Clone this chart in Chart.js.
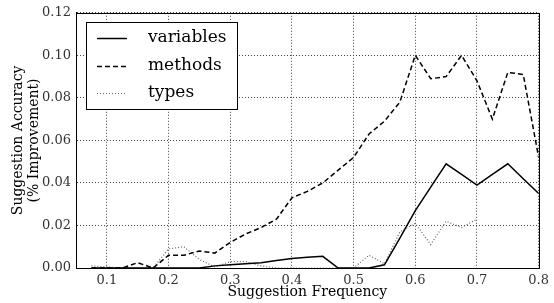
<!DOCTYPE html>
<html>
<head>
<meta charset="utf-8">
<script src="https://cdn.jsdelivr.net/npm/chart.js@4/dist/chart.umd.min.js"></script>
<style>
  html, body { margin: 0; padding: 0; background: #fff; }
  #wrap { width: 554px; height: 303px; position: relative; }
</style>
</head>
<body>
<div id="wrap"><canvas id="chart"></canvas></div>
<script>
// ==================== Data ====================
const freq = [0.075, 0.1, 0.125, 0.15, 0.175, 0.2, 0.225, 0.25, 0.275, 0.3,
              0.325, 0.35, 0.375, 0.4, 0.425, 0.45, 0.475, 0.5, 0.525, 0.55,
              0.575, 0.6, 0.625, 0.65, 0.675, 0.7, 0.725, 0.75, 0.775, 0.8];

const variables = [0, 0, 0, 0, 0, 0, 0, 0, 0.001, 0.0015,
                   0.002, 0.0025, 0.0035, 0.0045, 0.005, 0.0055, 0, 0, 0, 0.0015,
                   0.014, 0.027, 0.038, 0.049, 0.044, 0.039, 0.044, 0.049, 0.042, 0.035];

const methods = [0, 0, 0, 0.0025, 0, 0.006, 0.006, 0.008, 0.007, 0.012,
                 0.016, 0.019, 0.023, 0.033, 0.036, 0.040, 0.046, 0.052, 0.063, 0.069,
                 0.078, 0.100, 0.089, 0.090, 0.100, 0.088, 0.070, 0.092, 0.091, 0.052];

const types = [0.001, 0.0005, 0, 0, 0, 0.009, 0.010, 0.004, 0.0005, 0.003,
               0.003, 0.001, 0, 0, 0, 0, 0, 0, 0.006, 0.002,
               0.017, 0.021, 0.011, 0.022, 0.019, 0.023, null, null, null, null];

const seriesLabels = ["variables", "methods", "types"];
const xTicks = [0.1, 0.2, 0.3, 0.4, 0.5, 0.6, 0.7, 0.8];
const yTicks = [0, 0.02, 0.04, 0.06, 0.08, 0.10, 0.12];

const serif = "'DejaVu Serif', serif";

function points(ys) {
  return freq.map((x, i) => ({ x: x, y: ys[i] }));
}

// ==================== Plugins ====================
// box around the plot area
const framePlugin = {
  id: "frame",
  afterDraw(chart) {
    const { ctx, chartArea: a } = chart;
    ctx.save();
    ctx.strokeStyle = "#000";
    ctx.lineWidth = 1;
    ctx.strokeRect(Math.round(a.left) + 0.5, Math.round(a.top) + 0.5,
                   Math.round(a.right - a.left), Math.round(a.bottom - a.top));
    ctx.restore();
  }
};

// legend drawn inside the axes, top left
const boxLegend = {
  id: "boxLegend",
  afterDraw(chart) {
    const ctx = chart.ctx;
    const x0 = 86, y0 = 22, w = 151, h = 87;
    ctx.save();
    ctx.fillStyle = "#fff";
    ctx.fillRect(x0, y0, w, h);
    ctx.strokeStyle = "#000";
    ctx.lineWidth = 1;
    ctx.strokeRect(x0 + 0.5, y0 + 0.5, w, h);
    ctx.font = "17px " + serif;
    ctx.textBaseline = "middle";
    chart.data.datasets.forEach((ds, i) => {
      const y = 38 + i * 27.5;
      ctx.strokeStyle = ds.borderColor;
      ctx.lineWidth = ds.borderWidth;
      ctx.setLineDash(ds.borderDash || []);
      ctx.beginPath();
      ctx.moveTo(97, Math.round(y) + 0.5);
      ctx.lineTo(127, Math.round(y) + 0.5);
      ctx.stroke();
      ctx.setLineDash([]);
      ctx.fillStyle = "#000";
      ctx.fillText(ds.label, 148, y);
    });
    ctx.restore();
  }
};

// ==================== Chart ====================
const ctx = document.getElementById("chart").getContext("2d");
const chart = new Chart(ctx, {
  type: "line",
  data: {
    datasets: [
      {
        label: seriesLabels[0],
        data: points(variables),
        borderColor: "#000",
        borderWidth: 1.5,
        pointRadius: 0,
        tension: 0,
        fill: false
      },
      {
        label: seriesLabels[1],
        data: points(methods),
        borderColor: "#000",
        borderWidth: 1.5,
        borderDash: [5, 3],
        pointRadius: 0,
        tension: 0,
        fill: false
      },
      {
        label: seriesLabels[2],
        data: points(types),
        borderColor: "#666",
        borderWidth: 1.2,
        borderDash: [1, 2],
        pointRadius: 0,
        tension: 0,
        fill: false,
        spanGaps: false
      }
    ]
  },
  options: {
    responsive: true,
    maintainAspectRatio: false,
    animation: false,
    layout: { padding: { top: 12, right: 9, left: 0, bottom: 0 } },
    plugins: {
      legend: { display: false },
      tooltip: { enabled: false }
    },
    scales: {
      x: {
        type: "linear",
        min: 0.05,
        max: 0.8,
        afterBuildTicks: (scale) => { scale.ticks = xTicks.map(v => ({ value: v })); },
        afterFit: (scale) => { scale.height = 35; },
        grid: { color: "#444", lineWidth: 1, drawTicks: false },
        border: { color: "#000", width: 1, dash: [1, 2] },
        ticks: {
          color: "#333",
          padding: 5,
          maxRotation: 0,
          font: { family: serif, size: 13 },
          callback: (v) => v.toFixed(1)
        },
        title: {
          display: true,
          text: "Suggestion Frequency",
          color: "#000",
          padding: { top: 0, bottom: 2 },
          font: { family: serif, size: 14 }
        }
      },
      y: {
        min: 0,
        max: 0.12,
        afterBuildTicks: (scale) => { scale.ticks = yTicks.map(v => ({ value: v })); },
        afterFit: (scale) => { scale.width = 76; },
        grid: { color: "#444", lineWidth: 1, drawTicks: false },
        border: { color: "#000", width: 1, dash: [1, 2] },
        ticks: {
          color: "#333",
          padding: 5,
          font: { family: serif, size: 13 },
          callback: (v) => v.toFixed(2)
        },
        title: {
          display: true,
          text: ["Suggestion Accuracy", "(% Improvement)"],
          color: "#000",
          padding: { top: 10, bottom: 0 },
          font: { family: serif, size: 14, lineHeight: "16px" }
        }
      }
    }
  },
  plugins: [framePlugin, boxLegend]
});
</script>
</body>
</html>
